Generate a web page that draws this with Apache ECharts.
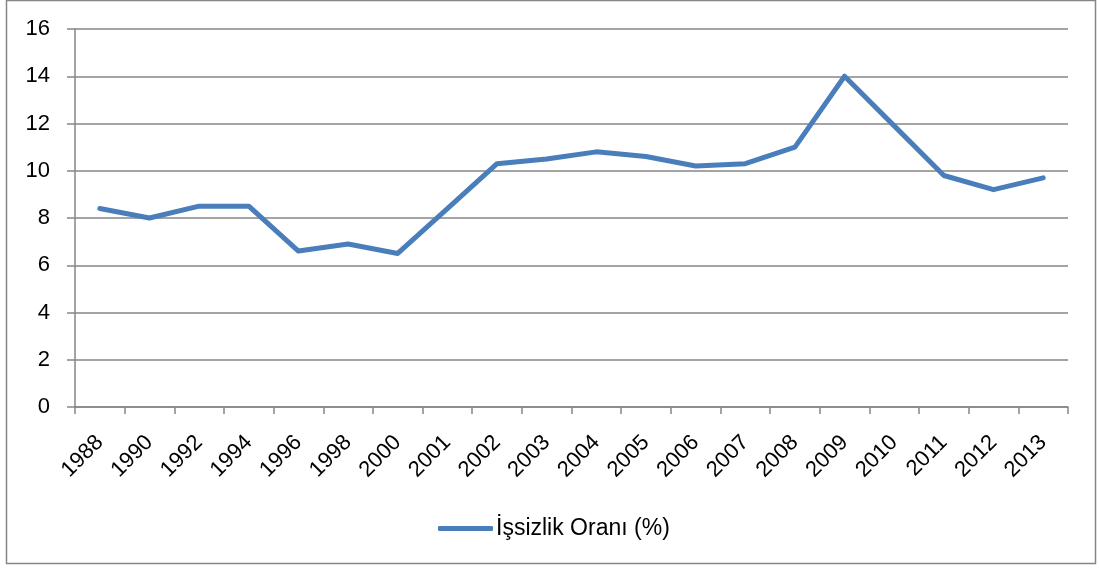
<!DOCTYPE html>
<html>
<head>
<meta charset="utf-8">
<script src="https://cdn.jsdelivr.net/npm/echarts@6/dist/echarts.min.js"></script>
<style>
  html, body { margin: 0; padding: 0; background: #ffffff; }
  #chart { width: 1099px; height: 570px; }
</style>
</head>
<body>
<div id="chart"></div>
<script>
// yıllar (x ekseni)
var years = ['1988', '1990', '1992', '1994', '1996', '1998', '2000', '2001', '2002', '2003',
             '2004', '2005', '2006', '2007', '2008', '2009', '2010', '2011', '2012', '2013'];
// işsizlik oranı (%)
var unemployment = [8.4, 8.0, 8.5, 8.5, 6.6, 6.9, 6.5, 8.4, 10.3, 10.5,
                    10.8, 10.6, 10.2, 10.3, 11.0, 14.0, 11.9, 9.8, 9.2, 9.7];
var seriesName = 'İşsizlik Oranı (%)';

var gray = '#868686';
var font = '"Liberation Sans", Arial, sans-serif';

var myChart = echarts.init(document.getElementById('chart'), null, {renderer: 'canvas'});

myChart.setOption({
    animation: false,
    // dış çerçeve
    graphic: [{
        type: 'rect',
        shape: {x: 6.5, y: 0.5, width: 1089, height: 563},
        style: {fill: 'none', stroke: gray, lineWidth: 1.5},
        silent: true
    }],
    grid: {left: 75, right: 31, top: 29, bottom: 163},
    legend: {
        data: [seriesName],
        left: 438,
        top: 517,
        padding: 0,
        itemWidth: 55,
        itemHeight: 5,
        itemGap: 4,
        icon: 'roundRect',
        textStyle: {fontFamily: font, fontSize: 23, color: '#000', padding: [0, 0, 0, -2]}
    },
    xAxis: {
        type: 'category',
        data: years,
        boundaryGap: true,
        axisLine: {lineStyle: {color: gray, width: 1.5}},
        axisTick: {show: true, length: 7, lineStyle: {color: gray, width: 1.5}},
        axisLabel: {
            rotate: 45,
            interval: 0,
            margin: 32,
            fontFamily: font,
            fontSize: 22,
            color: '#000'
        },
        splitLine: {show: false}
    },
    yAxis: {
        type: 'value',
        min: 0,
        max: 16,
        interval: 2,
        axisLine: {show: true, lineStyle: {color: gray, width: 1.5}},
        axisTick: {show: true, length: 8, lineStyle: {color: gray, width: 1.5}},
        axisLabel: {margin: 25, fontFamily: font, fontSize: 22, color: '#000'},
        splitLine: {lineStyle: {color: gray, width: 1.5}}
    },
    series: [{
        name: seriesName,
        type: 'line',
        data: unemployment,
        symbol: 'none',
        color: '#4a7ebb',
        lineStyle: {width: 5, color: '#4a7ebb', cap: 'round', join: 'round'}
    }]
});
</script>
</body>
</html>
